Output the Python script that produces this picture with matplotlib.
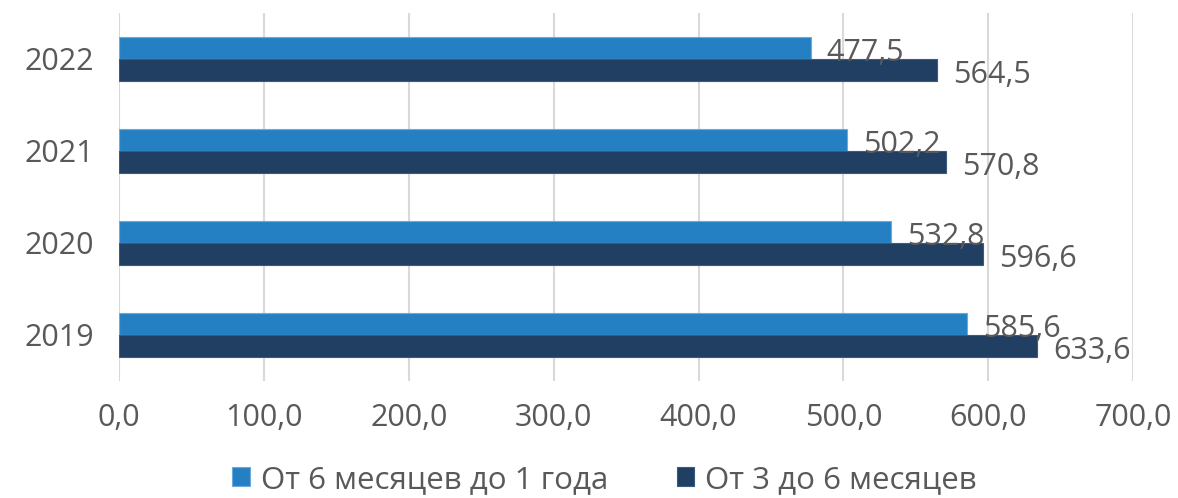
import matplotlib
matplotlib.use("Agg")
import matplotlib.pyplot as plt
import numpy as np

# Data
years = ["2019", "2020", "2021", "2022"]
half_to_year = [585.6, 532.8, 502.2, 477.5]      # От 6 месяцев до 1 года
three_to_six = [633.6, 596.6, 570.8, 564.5]      # От 3 до 6 месяцев
series_names = ["От 6 месяцев до 1 года", "От 3 до 6 месяцев"]
x_ticks = [0, 100, 200, 300, 400, 500, 600, 700]

light = "#2580C3"
dark = "#203F63"
grey = "#595959"

plt.rcParams["font.family"] = ["Open Sans", "DejaVu Sans"]
fs = 22

fig = plt.figure(figsize=(11.78, 4.98), dpi=100)
ax = fig.add_axes([0.101, 0.235, 0.861, 0.739])

y = np.arange(len(years))
h = 0.24
ax.barh(y + h / 2, half_to_year, height=h, color=light, edgecolor="#6FA8DC", linewidth=0.8,
        label=series_names[0], zorder=3)
ax.barh(y - h / 2, three_to_six, height=h, color=dark, edgecolor="#3A5A80", linewidth=0.8,
        label=series_names[1], zorder=3)

def fmt(v):
    return f"{v:.1f}".replace(".", ",")

for yi, v in zip(y, half_to_year):
    ax.text(v + 11, yi + 0.06, fmt(v), fontsize=fs, color=grey, va="center", ha="left", zorder=4)
for yi, v in zip(y, three_to_six):
    ax.text(v + 11, yi - 0.17, fmt(v), fontsize=fs, color=grey, va="center", ha="left", zorder=4)

ax.set_xlim(0, 700)
ax.set_ylim(-0.5, len(years) - 0.5)
ax.set_xticks(x_ticks)
ax.set_xticklabels([fmt(t) for t in x_ticks], fontsize=fs, color=grey)
ax.set_yticks(y)
ax.set_yticklabels(years, fontsize=fs, color=grey)
ax.tick_params(axis="y", length=0, pad=18)
ax.tick_params(axis="x", length=0, pad=16)
ax.grid(axis="x", color="#D9D9D9", linewidth=1.5, zorder=0)
for s in ax.spines.values():
    s.set_visible(False)

leg = fig.legend(loc="lower center", ncol=2, frameon=False, fontsize=22.5,
                 bbox_to_anchor=(0.513, -0.05), handlelength=0.55, handleheight=0.55,
                 handletextpad=0.35, columnspacing=2.2)
for t in leg.get_texts():
    t.set_color(grey)

fig.savefig("out.png", dpi=100)
